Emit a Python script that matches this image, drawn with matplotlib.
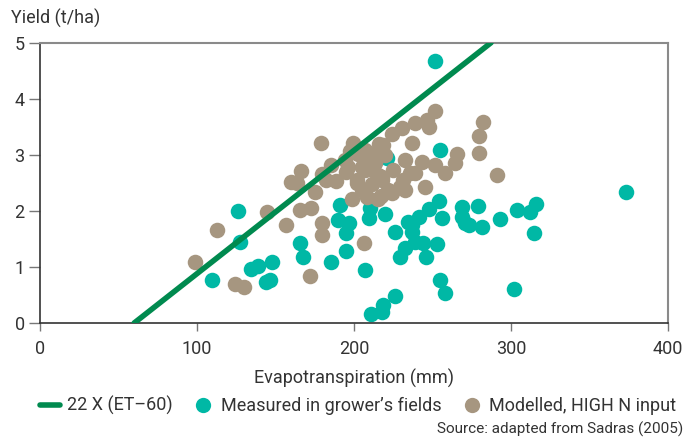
import numpy as np
import matplotlib.pyplot as plt
from matplotlib.lines import Line2D

# Measured yields in growers' fields (ET mm, yield t/ha)
measured_et = [251.5, 373, 254.5, 221, 302, 314.6, 316, 312, 304, 293, 281.6, 279, 273, 269,
               269, 257.7, 255, 256, 254, 247.5, 241.5, 234.7, 252.8, 245.8, 226, 218.7, 217.6,
               210.8, 207, 219.7, 209.5, 210, 194.6, 194.6, 197, 190, 191, 185.6, 270.7, 226,
               236.8, 239, 244, 232.5, 229, 165.3, 167.5, 125.9, 127.6, 109.4, 134.4, 139,
               147.6, 144, 146.8, 237]
measured_yield = [4.67, 2.34, 3.08, 2.94, 0.6, 1.6, 2.12, 1.98, 2.01, 1.85, 1.71, 2.09, 1.75, 2.07,
                  1.89, 0.54, 0.77, 1.88, 2.18, 2.03, 1.89, 1.81, 1.41, 1.18, 0.48, 0.32, 0.2,
                  0.16, 0.94, 1.94, 1.88, 2.05, 1.29, 1.6, 1.78, 1.84, 2.1, 1.09, 1.78, 1.63,
                  1.63, 1.45, 1.42, 1.33, 1.18, 1.42, 1.18, 2.0, 1.45, 0.77, 0.96, 1.02,
                  1.09, 0.74, 0.77, 1.75]

# Modelled yields with high N input
modelled_et = [156.8, 165.3, 172.4, 179.6, 179.6, 171.7, 206.5, 112.6, 98.6, 144.6, 124.2, 129.7,
               160, 179.2, 166.4, 163.6, 175, 179.6, 185.6, 188.8, 198.8, 199.5, 197.3, 195.2,
               202, 194, 182.4, 196.3, 202.7, 204.8, 210, 212.3, 201.6, 204.8, 211.6, 208,
               215.5, 207, 214.4, 215.5, 251.7, 246.4, 247.5, 238.9, 230.4, 224, 215.9, 236.8,
               214.4, 219.7, 265.6, 264.5, 258, 251.7, 243.2, 232.5, 225, 239, 245.3, 231.5,
               217.6, 213.3, 221.9, 232.5, 279.5, 282, 279.5, 290.8, 235.7, 229.3, 224, 217.2,
               217.6, 218.7, 207]
modelled_yield = [1.75, 2.01, 2.06, 1.79, 1.57, 0.83, 1.42, 1.65, 1.09, 1.98, 0.69, 0.65,
                  2.52, 3.21, 2.71, 2.5, 2.34, 2.65, 2.82, 2.54, 2.22, 3.21, 3.07, 2.7,
                  2.5, 2.9, 2.55, 2.79, 3.02, 2.79, 2.9, 2.73, 2.55, 2.37, 2.48, 2.25,
                  2.22, 3.08, 3.02, 2.64, 3.78, 3.62, 3.49, 3.57, 3.47, 3.38, 3.2, 3.21,
                  3.05, 2.99, 3.02, 2.85, 2.67, 2.82, 2.88, 2.9, 2.73, 2.67, 2.43, 2.55,
                  2.55, 2.85, 2.37, 2.37, 3.33, 3.59, 3.04, 2.64, 2.67, 2.43, 2.31, 2.26,
                  2.61, 3.17, 2.73]

# Water-limited potential: 22 kg/ha/mm x (ET - 60)
line_et = np.array([60, 60 + 5000 / 22])
line_yield = 0.022 * (line_et - 60)

x_ticks = [0, 100, 200, 300, 400]
y_ticks = [0, 1, 2, 3, 4, 5]

teal = '#00b8a5'
brown = '#a69680'
green = '#008a4f'
txt = '#333333'

plt.rcParams['font.family'] = ['Roboto', 'DejaVu Sans']

fig = plt.figure(figsize=(6.86, 4.37), dpi=100)
ax = fig.add_axes([0.0583, 0.2609, 0.9155, 0.6414])

ax.scatter(measured_et, measured_yield, s=125, color=teal, linewidth=0, zorder=2)
ax.scatter(modelled_et, modelled_yield, s=125, color=brown, linewidth=0, zorder=3)
ax.plot(line_et, line_yield, color=green, lw=4, solid_capstyle='round', zorder=4)

ax.set_xlim(0, 400)
ax.set_ylim(0, 5)
ax.set_xticks(x_ticks)
ax.set_yticks(y_ticks)
ax.tick_params(axis='both', labelsize=13, colors=txt)
ax.tick_params(axis='y', length=8, width=1, color='#777777', pad=3)
ax.tick_params(axis='x', length=6, width=1, color='#777777', pad=6)

for side in ['left', 'bottom']:
    ax.spines[side].set_color('#333333')
    ax.spines[side].set_linewidth(1.2)
for side in ['top', 'right']:
    ax.spines[side].set_color('#8a8a8a')
    ax.spines[side].set_linewidth(1.5)

ax.set_xlabel('Evapotranspiration (mm)', fontsize=13, color=txt, labelpad=8)
fig.text(0.016, 0.958, 'Yield (t/ha)', fontsize=13, color=txt, ha='left', va='center')

handles = [
    Line2D([], [], color=green, lw=4, solid_capstyle='round'),
    Line2D([], [], ls='', marker='o', ms=11, color=teal, mew=0),
    Line2D([], [], ls='', marker='o', ms=11, color=brown, mew=0),
]
labels = ['22 X (ET\u201360)', 'Measured in grower\u2019s fields', 'Modelled, HIGH N input']
leg = fig.legend(handles, labels, loc='center', bbox_to_anchor=(0.522, 0.072), ncol=3,
                 frameon=False, fontsize=13, handlelength=1.1, handletextpad=0.4,
                 columnspacing=1.15)
for t in leg.get_texts():
    t.set_color(txt)

fig.text(0.996, 0.018, 'Source: adapted from Sadras (2005)', fontsize=11, color=txt,
         ha='right', va='center')

fig.savefig('out.png', dpi=100)
